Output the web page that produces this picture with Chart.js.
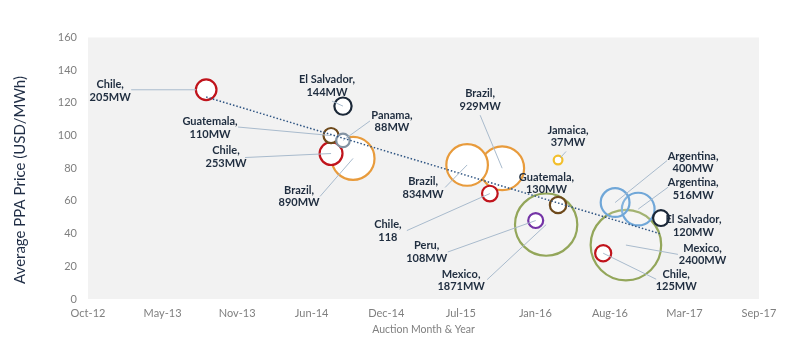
<!DOCTYPE html>
<html>
<head>
<meta charset="utf-8">
<script src="https://cdn.jsdelivr.net/npm/chart.js@4.4.1/dist/chart.umd.min.js"></script>
<style>
  body { margin: 0; background: #fff; }
  #wrap { width: 800px; height: 349px; }
</style>
</head>
<body>
<div id="wrap"><canvas id="ppaChart"></canvas></div>
<script>
// Auctions in date order, x = days after 18 Oct 2012
const countries = ['Chile', 'Guatemala', 'Chile', 'El Salvador', 'Panama', 'Brazil', 'Brazil', 'Chile', 'Brazil',
    'Peru', 'Mexico', 'Jamaica', 'Guatemala', 'Chile', 'Argentina', 'Mexico', 'Argentina', 'El Salvador'];
const auctionDays = [317, 652, 652, 684, 684, 711, 1017, 1078, 1111, 1201, 1229, 1261, 1261, 1382, 1414, 1443, 1476, 1537];
const prices = [128, 100, 89, 118, 97, 86, 82, 64.5, 80, 48, 45.5, 85, 57.5, 28, 59, 33, 55, 49.5];
const capacityMW = [205, 110, 253, 144, 88, 890, 834, 118, 929, 108, 1871, 37, 130, 125, 400, 2400, 516, 120];
const sizeLabels = ['205MW', '110MW', '253MW', '144MW', '88MW', '890MW', '834MW', '118', '929MW',
    '108MW', '1871MW', '37MW', '130MW', '125MW', '400MW', '2400MW', '516MW', '120MW'];

const xTickLabels = ['Oct-12', 'May-13', 'Nov-13', 'Jun-14', 'Dec-14', 'Jul-15', 'Jan-16', 'Aug-16', 'Mar-17', 'Sep-17'];

// dotted trend line
const trendDays = [317, 1534];
const trendPrices = [123.6, 40];

const countryColors = {
    'Chile': '#C0141C',
    'Guatemala': '#6E4A1C',
    'El Salvador': '#1B2838',
    'Panama': '#8393A3',
    'Brazil': '#E89B3C',
    'Peru': '#7434A6',
    'Mexico': '#93A65A',
    'Jamaica': '#F2BF2C',
    'Argentina': '#70A7D8'
};
const hollowCountries = ['Mexico', 'Argentina'];

// label placement in px from the bubble centre: [textX, textY, leaderX, leaderY, (endX, endY)]
const labelOffsets = [
    [-96, 1, -75, 0, -10, 0],
    [-121, -7.5, -93, -8.5],
    [-105, 3.6, -86, 4],
    [-16, -20, -11, -5],
    [49, -19, 27, -19.5],
    [-54, 38, -33, 38],
    [-44, 23, -22, 22.5],
    [-102, 37.5, -83, 37],
    [-22, -68.5, -22, -53],
    [-109, 31.5, -88, 31.5],
    [-85, 55.7, -59, 55],
    [10, -23.5, 8, -8.6, 2, -2],
    [-11.6, -21.7, null, null],
    [73, 27.4, 53, 26],
    [78, -40, 52, -42],
    [76.6, 9.3, 52, 9.3],
    [55, -20, 30, -22],
    [32.5, 8, null, null]
];

const FONT = 'Lato, "Open Sans", sans-serif';

// big bubbles first so small ones stay on top
const bubblePoints = capacityMW.map((mw, i) => ({
    x: auctionDays[i],
    y: prices[i],
    r: 0.72 * Math.sqrt(mw),
    i: i
})).sort((a, b) => b.r - a.r);

const plotBackground = {
    id: 'plotBackground',
    beforeDraw(chart) {
        const {ctx, chartArea} = chart;
        ctx.save();
        ctx.fillStyle = '#F2F2F2';
        ctx.fillRect(chartArea.left, chartArea.top, chartArea.right - chartArea.left, chartArea.bottom - chartArea.top);
        ctx.restore();
    }
};

const bubbleLabels = {
    id: 'bubbleLabels',
    afterDatasetsDraw(chart) {
        const {ctx} = chart;
        const xs = chart.scales.x, ys = chart.scales.y;
        ctx.save();
        // leader lines
        ctx.strokeStyle = '#A9BBCD';
        ctx.lineWidth = 1;
        labelOffsets.forEach((o, i) => {
            if (o[2] === null) return;
            const cx = xs.getPixelForValue(auctionDays[i]);
            const cy = ys.getPixelForValue(prices[i]);
            ctx.beginPath();
            ctx.moveTo(cx + o[2], cy + o[3]);
            ctx.lineTo(cx + (o[4] || 0), cy + (o[5] || 0));
            ctx.stroke();
        });
        // texts
        ctx.fillStyle = '#1F2D3F';
        ctx.font = 'bold 11px ' + FONT;
        ctx.textAlign = 'center';
        ctx.textBaseline = 'middle';
        labelOffsets.forEach((o, i) => {
            const cx = xs.getPixelForValue(auctionDays[i]);
            const cy = ys.getPixelForValue(prices[i]);
            ctx.fillText(countries[i] + ',', cx + o[0], cy + o[1] - 6.3);
            ctx.fillText(sizeLabels[i], cx + o[0], cy + o[1] + 6.3);
        });
        ctx.restore();
    },
    afterDraw(chart) {
        // y axis title
        const {ctx} = chart;
        ctx.save();
        ctx.translate(20, 180);
        ctx.rotate(-Math.PI / 2);
        ctx.fillStyle = '#1F2D45';
        ctx.font = '15px ' + FONT;
        ctx.textAlign = 'center';
        ctx.textBaseline = 'middle';
        ctx.fillText('Average PPA Price (USD/MWh)', 0, 0);
        ctx.restore();
    }
};

new Chart(document.getElementById('ppaChart'), {
    data: {
        datasets: [{
            type: 'line',
            data: trendDays.map((d, i) => ({x: d, y: trendPrices[i]})),
            borderColor: '#2F5583',
            borderWidth: 1.5,
            borderDash: [1.5, 2],
            pointRadius: 0,
            fill: false
        }, {
            type: 'bubble',
            data: bubblePoints,
            borderColor: ctx => countryColors[countries[ctx.raw.i]],
            backgroundColor: ctx => hollowCountries.includes(countries[ctx.raw.i]) ? 'rgba(255,255,255,0.15)' : '#FFFFFF',
            borderWidth: 2.2,
            hoverRadius: 0
        }]
    },
    options: {
        responsive: true,
        maintainAspectRatio: false,
        animation: false,
        layout: {padding: {top: 31, right: 41, left: 0, bottom: 0}},
        plugins: {
            legend: {display: false},
            tooltip: {enabled: false}
        },
        scales: {
            x: {
                type: 'linear',
                min: 0,
                max: 1800,
                grid: {display: false, drawTicks: false},
                border: {display: false},
                ticks: {
                    stepSize: 200,
                    autoSkip: false,
                    maxRotation: 0,
                    padding: 8,
                    color: '#7F7F7F',
                    font: {family: FONT, size: 11},
                    callback: v => xTickLabels[Math.round(v / 200)]
                },
                title: {
                    display: true,
                    text: 'Auction Month & Year',
                    color: '#7F7F7F',
                    font: {family: FONT, size: 10.5},
                    padding: {top: 0, bottom: 13}
                },
                afterFit: s => { s.height = 50; }
            },
            y: {
                min: 0,
                max: 160,
                grid: {display: false, drawTicks: false},
                border: {display: false},
                ticks: {
                    stepSize: 20,
                    padding: 11,
                    color: '#7F7F7F',
                    font: {family: FONT, size: 11}
                },
                afterFit: s => { s.width = 88; }
            }
        }
    },
    plugins: [plotBackground, bubbleLabels]
});
</script>
</body>
</html>
